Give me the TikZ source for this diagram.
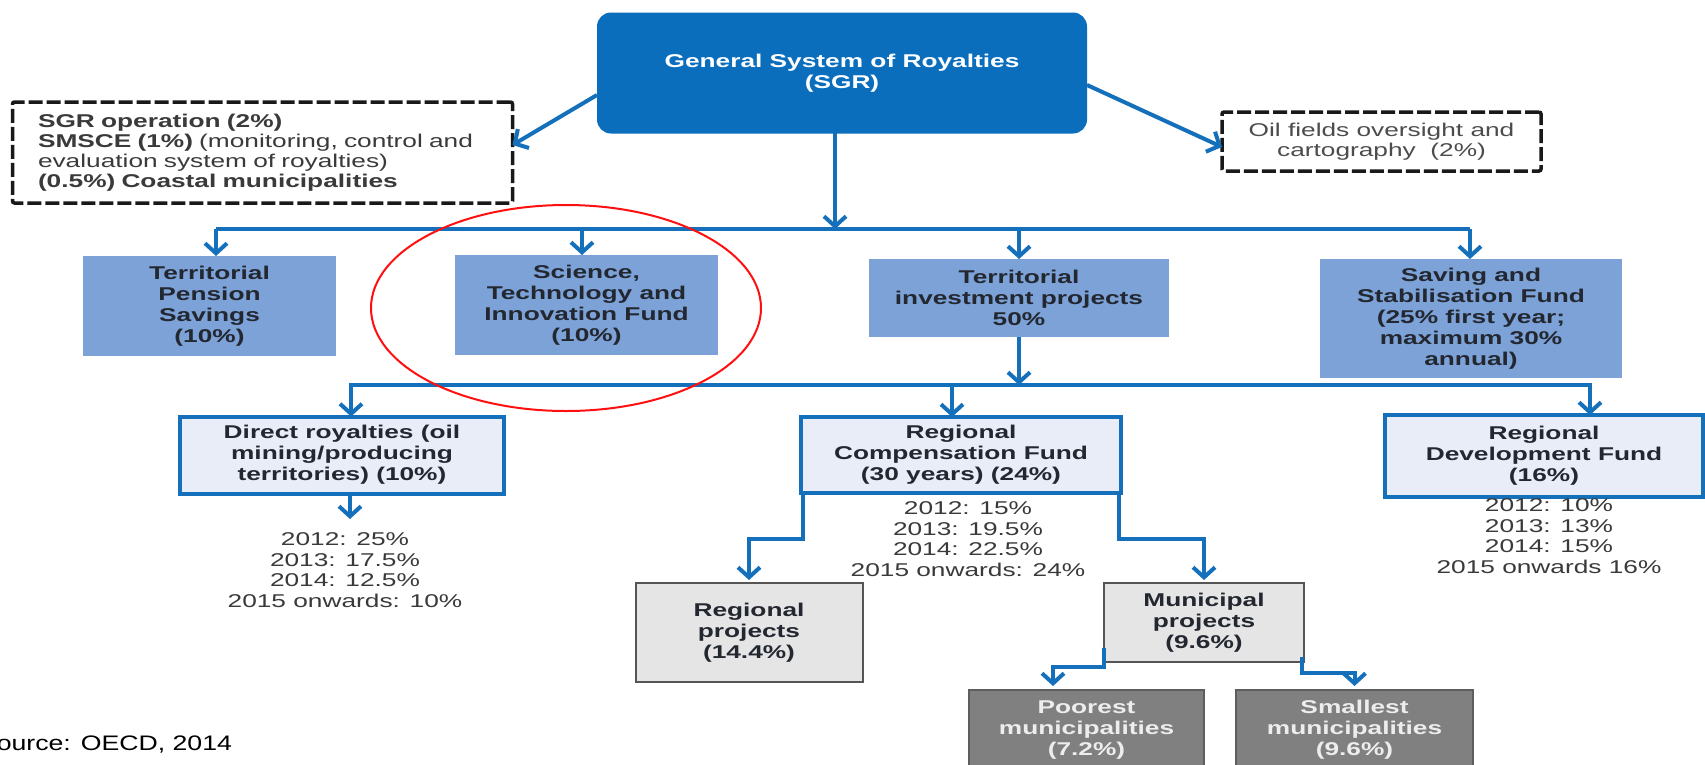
\documentclass[tikz,border=0pt]{standalone}
\usepackage{fontspec}
\setmainfont{Liberation Sans}[FakeStretch=1.42]
\newfontfamily\srcfont{Liberation Sans}[FakeStretch=1.27]
\usetikzlibrary{arrows.meta,calc}

\definecolor{sgrblue}{HTML}{0A6EBD}
\definecolor{lineblue}{HTML}{1570BC}
\definecolor{midblue}{HTML}{7CA2D8}
\definecolor{paleblue}{HTML}{E8EDF7}
\definecolor{boxgray}{HTML}{E5E5E5}
\definecolor{boxgrayline}{HTML}{555555}
\definecolor{darkgray}{HTML}{808080}
\definecolor{darkgrayline}{HTML}{5E5E5E}
\definecolor{txtdark}{HTML}{232730}
\definecolor{txtgray}{HTML}{3A3A3A}
\definecolor{txtlight}{HTML}{EDEDED}
\definecolor{ringred}{HTML}{FF1010}

\tikzset{
  vtip/.tip={Straight Barb[length=10pt,width=22pt]},
  boxfont/.style={font=\fontsize{18.5}{21}\selectfont\bfseries},
  sgrbox/.style={fill=sgrblue, rounded corners=14pt, text=white, boxfont, align=center},
  dashbox/.style={draw=black!90, line width=3.5pt, dash pattern=on 14pt off 4pt,
    rounded corners=2pt, fill=white, text=txtgray},
  midbox/.style={fill=midblue, text=txtdark, boxfont, align=center},
  fundbox/.style={fill=paleblue, draw=lineblue, line width=4pt, text=txtdark, boxfont, align=center},
  graybox/.style={fill=boxgray, draw=boxgrayline, line width=2pt, text=txtdark, boxfont, align=center},
  darkbox/.style={fill=darkgray, draw=darkgrayline, line width=2pt, text=txtlight, boxfont, align=center},
  yeartext/.style={text=txtgray, font=\fontsize{18.5}{20.5}\selectfont, align=center},
  conn/.style={draw=lineblue, line width=4pt},
  arr/.style={conn, -vtip},
  arr2/.style={conn, vtip-vtip},
}

\begin{document}
\begin{tikzpicture}[x=1pt, y=-1pt, every node/.style={inner sep=0pt, outer sep=0pt}]
\fill[white] (0,0) rectangle (1705,764);
\useasboundingbox (0,0) rectangle (1705,764);

% ---- top level ----
\node[sgrbox, minimum width=490pt, minimum height=121pt] (SGR) at (842,73)
  {General System of Royalties\\(SGR)};

\node[dashbox, minimum width=500pt, minimum height=101pt, text width=449pt, align=left,
      font=\fontsize{18.5}{20}\selectfont] (LD) at (262.5,152.5)
  {\mbox{\bfseries SGR operation (2\%)}\\
   \mbox{\bfseries SMSCE (1\%)\mdseries{} (monitoring, control and}\\
   \mbox{evaluation system of royalties)}\\
   \mbox{\bfseries (0.5\%) Coastal municipalities}};

\node[dashbox, minimum width=319pt, minimum height=59pt, align=center,
      font=\fontsize{18.5}{20.5}\selectfont, text=black!70] (RD) at (1381.5,141.5)
  {Oil fields oversight and\\cartography\ \ (2\%)};

% ---- second level ----
\node[midbox, minimum width=253pt, minimum height=100pt] (TPS) at (209.5,306)
  {Territorial\\Pension\\Savings\\(10\%)};
\node[midbox, minimum width=263pt, minimum height=100pt] (STI) at (586.5,305)
  {Science,\\Technology and\\Innovation Fund\\(10\%)};
\node[midbox, minimum width=300pt, minimum height=78pt] (TIP) at (1019,298)
  {Territorial\\investment projects\\50\%};
\node[midbox, minimum width=302pt, minimum height=119pt] (SSF) at (1471,318.5)
  {Saving and\\Stabilisation Fund\\(25\% first year;\\maximum 30\%\\annual)};

% ---- third level ----
\node[fundbox, minimum width=324pt, minimum height=77pt] (DR) at (342,455)
  {Direct royalties (oil\\mining/producing\\territories) (10\%)};
\node[fundbox, minimum width=320pt, minimum height=76pt] (RCF) at (961,455)
  {Regional\\Compensation Fund\\(30 years) (24\%)};
\node[fundbox, minimum width=318pt, minimum height=82pt] (RDF) at (1544,456)
  {Regional\\Development Fund\\(16\%)};

\node[yeartext] (DRy) at (345,570)
  {2012: 25\%\\2013: 17.5\%\\2014: 12.5\%\\2015 onwards: 10\%};
\node[yeartext] (RCFy) at (968,539)
  {2012: 15\%\\2013: 19.5\%\\2014: 22.5\%\\2015 onwards: 24\%};
\node[yeartext] (RDFy) at (1549,536)
  {2012: 10\%\\2013: 13\%\\2014: 15\%\\2015 onwards 16\%};

% ---- project level ----
\node[graybox, minimum width=227pt, minimum height=99pt] (RP) at (749,632.5)
  {Regional\\projects\\(14.4\%)};
\node[graybox, minimum width=200pt, minimum height=79pt] (MP) at (1204,622.5)
  {Municipal\\projects\\(9.6\%)};
\node[darkbox, minimum width=235pt, minimum height=80pt] (PM) at (1086.5,730)
  {Poorest\\municipalities\\(7.2\%)};
\node[darkbox, minimum width=237pt, minimum height=80pt] (SM) at (1354.5,730)
  {Smallest\\municipalities\\(9.6\%)};

\node[anchor=base east, font=\srcfont\fontsize{21}{25}\selectfont, text=black] (src) at (232,750)
  {Source: OECD, 2014};

% ---- connectors ----
\draw[arr] (SGR.west |- 0,95) -- (LD.east |- 0,145);
\draw[arr] (SGR.east |- 0,85) -- (RD.west |- 0,147);

\coordinate (sgrDn) at (835,133);
\coordinate (b1L) at (216,229);
\coordinate (b1S) at (582,229);
\coordinate (b1T) at (1019,229);
\coordinate (b1R) at (1470,229);
\draw[conn] (b1L) -- (b1R);
\draw[arr] (sgrDn) -- (sgrDn |- b1L);
\draw[arr] (b1L) -- (b1L |- TPS.north);
\draw[arr] (b1S) -- (b1S |- STI.north);
\draw[arr] (b1T) -- (b1T |- TIP.north);
\draw[arr] (b1R) -- (b1R |- SSF.north);

\coordinate (b2L) at (351,385);
\coordinate (b2C) at (952,385);
\coordinate (b2R) at (1590,385);
\draw[arr2] (b2L |- DR.north) -- (b2L) -- (b2R) -- (b2R |- RDF.north);
\draw[arr] (TIP.south) -- (TIP.south |- b2L);
\draw[arr] (b2C) -- (b2C |- RCF.north);

\coordinate (drTip) at (350,519);
\draw[arr] (DR.south -| drTip) -- (drTip);

\coordinate (rcfL) at (803,539);
\coordinate (rcfR) at (1119,539);
\draw[arr, shorten >=3pt] (rcfL |- RCF.south) -- (rcfL) -| (RP.north);
\draw[arr, shorten >=3pt] (rcfR |- RCF.south) -- (rcfR) -| (MP.north);

\coordinate (mpLs) at (1104,648);
\coordinate (mpL) at (1104,667);
\coordinate (pmA) at (1053,0);
\coordinate (mpRs) at (1302,657);
\coordinate (mpR) at (1302,673);
\draw[arr, shorten >=4pt] (mpLs) -- (mpL) -| (pmA |- PM.north);
\draw[arr, shorten >=4pt] (mpRs) -- (mpR) -| (SM.north);

% ---- highlight ring ----
\draw[ringred, line width=2pt] (566,308) ellipse [x radius=195pt, y radius=103pt];
\end{tikzpicture}
\end{document}
